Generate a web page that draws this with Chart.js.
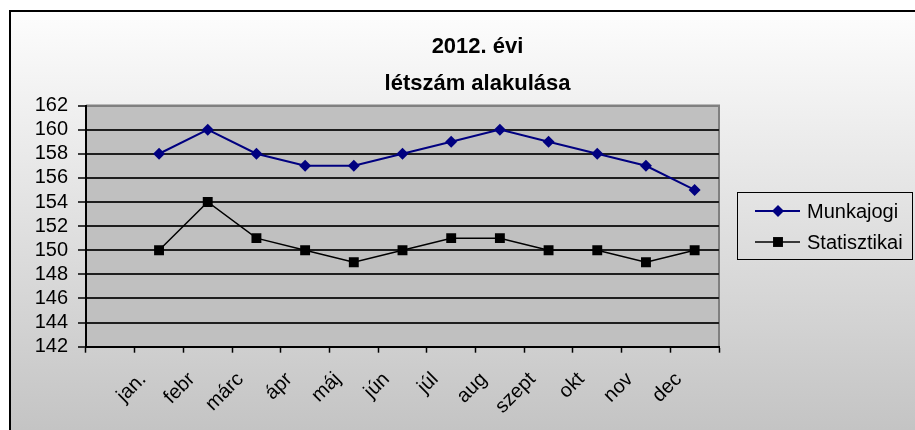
<!DOCTYPE html>
<html>
<head>
<meta charset="utf-8">
<script src="https://cdn.jsdelivr.net/npm/chart.js@4/dist/chart.umd.min.js"></script>
<style>
  html, body { margin: 0; padding: 0; background: #fff; }
  #wrap { width: 915px; height: 430px; }
</style>
</head>
<body>
<div id="wrap"><canvas id="staffChart" width="915" height="430"></canvas></div>
<script>
    // first slot is left empty, like in the original sheet
    const months = ['', 'jan.', 'febr', 'márc', 'ápr', 'máj', 'jún', 'júl', 'aug', 'szept', 'okt', 'nov', 'dec'];
    const munkajogi = [null, 158, 160, 158, 157, 157, 158, 159, 160, 159, 158, 157, 155];
    const statisztikai = [null, 150, 154, 151, 150, 149, 150, 151, 151, 150, 150, 149, 150];
    const titleLines = ['2012. évi', 'létszám alakulása'];
    const yMin = 142, yMax = 162, yStep = 2;

    const font = 'Liberation Sans, Arial, sans-serif';

    const frame = {
        id: 'frame',
        beforeDraw(chart) {
            const c = chart.ctx, a = chart.chartArea;
            c.save();
            c.fillStyle = '#fff';
            c.fillRect(0, 0, chart.width, chart.height);
            const g = c.createLinearGradient(0, 11, 0, chart.height);
            g.addColorStop(0, '#fdfdfd');
            g.addColorStop(1, '#c4c4c4');
            c.fillStyle = g;
            c.fillRect(10, 11, chart.width - 10, chart.height - 11);
            c.strokeStyle = '#000';
            c.lineWidth = 2;
            c.beginPath();
            c.moveTo(10, chart.height);
            c.lineTo(10, 11);
            c.lineTo(chart.width, 11);
            c.stroke();
            c.fillStyle = '#c0c0c0';
            c.fillRect(a.left, a.top, a.right - a.left, a.bottom - a.top);
            c.strokeStyle = '#808080';
            c.lineWidth = 2;
            c.beginPath();
            c.moveTo(a.left, a.top);
            c.lineTo(a.right, a.top);
            c.lineTo(a.right, a.bottom);
            c.stroke();
            c.restore();
        },
        afterLayout(chart) {
            // center title over the framed area instead of the plot
            const t = chart.titleBlock;
            if (t) { t.left += 118; t.right += 118; }
        }
    };

    const sideLegend = {
        id: 'sideLegend',
        afterDraw(chart) {
            const c = chart.ctx;
            c.save();
            c.strokeStyle = '#000';
            c.lineWidth = 1;
            c.strokeRect(737.5, 192.5, 175, 67);
            c.font = '20px ' + font;
            c.textBaseline = 'middle';
            c.textAlign = 'left';
            chart.data.datasets.forEach((ds, i) => {
                const y = 211 + i * 31;
                c.strokeStyle = ds.borderColor;
                c.lineWidth = ds.borderWidth;
                c.beginPath();
                c.moveTo(755, y);
                c.lineTo(800, y);
                c.stroke();
                c.fillStyle = ds.pointBackgroundColor;
                Chart.helpers.drawPoint(c, {pointStyle: ds.pointStyle, radius: ds.pointRadius, borderWidth: 0}, 778, y);
                c.fillStyle = '#000';
                c.fillText(ds.label, 807, y + 1);
            });
            c.restore();
        }
    };

    const ctx = document.getElementById('staffChart').getContext('2d');
    new Chart(ctx, {
        type: 'line',
        data: {
            labels: months,
            datasets: [{
                label: 'Munkajogi',
                data: munkajogi,
                borderColor: '#000080',
                backgroundColor: '#000080',
                pointBackgroundColor: '#000080',
                pointBorderColor: '#000080',
                borderWidth: 2,
                pointStyle: 'rectRot',
                pointRadius: 6,
                pointBorderWidth: 0,
                tension: 0
            }, {
                label: 'Statisztikai',
                data: statisztikai,
                borderColor: '#000',
                backgroundColor: '#000',
                pointBackgroundColor: '#000',
                pointBorderColor: '#000',
                borderWidth: 1.5,
                pointStyle: 'rect',
                pointRadius: 7,
                pointBorderWidth: 0,
                tension: 0
            }]
        },
        options: {
            responsive: false,
            animation: false,
            layout: { padding: { left: 0, right: 196, top: 0, bottom: 0 } },
            scales: {
                x: {
                    offset: true,
                    grid: { offset: true, drawOnChartArea: false, drawTicks: true, tickLength: 6, tickColor: '#000', tickWidth: 1.5 },
                    border: { color: '#000', width: 2 },
                    ticks: {
                        color: '#000',
                        font: { family: font, size: 20 },
                        minRotation: 45,
                        maxRotation: 45,
                        autoSkip: false,
                        padding: 15,
                        labelOffset: -16
                    },
                    afterFit(scale) { scale.height = 83.3; }
                },
                y: {
                    min: yMin,
                    max: yMax,
                    grid: {
                        color: c => c.tick && c.tick.value === yMax ? '#808080' : '#1e1e1e',
                        lineWidth: 2,
                        tickLength: 8,
                        tickColor: '#000',
                        tickWidth: 1.5
                    },
                    border: { color: '#000', width: 2 },
                    ticks: {
                        stepSize: yStep,
                        autoSkip: false,
                        color: '#000',
                        padding: 10,
                        font: { family: font, size: 20, lineHeight: 1 }
                    },
                    afterFit(scale) { scale.width = 86; }
                }
            },
            plugins: {
                legend: { display: false },
                tooltip: { enabled: false },
                title: {
                    display: true,
                    text: titleLines,
                    color: '#000',
                    font: { family: font, size: 22, weight: 'bold', lineHeight: 1.682 },
                    padding: { top: 28, bottom: 3.5 }
                }
            }
        },
        plugins: [frame, sideLegend]
    });
</script>
</body>
</html>
